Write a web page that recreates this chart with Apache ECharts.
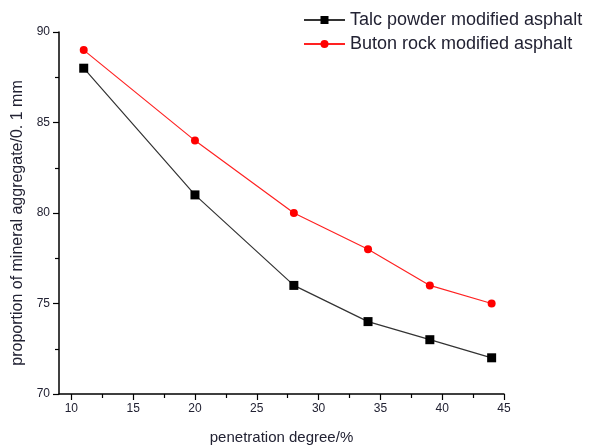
<!DOCTYPE html>
<html><head><meta charset="utf-8">
<script src="https://cdn.jsdelivr.net/npm/echarts@6/dist/echarts.min.js"></script>
<style>html,body{margin:0;padding:0;background:#fff}#c{width:591px;height:447px}</style>
</head><body><div id="c"></div>
<script>
const penetration = [11, 20, 28, 34, 39, 44];
const talc = [88, 81, 76, 74, 73, 72];
const buton = [89, 84, 80, 78, 76, 75];
const xTickLabels = [10, 15, 20, 25, 30, 35, 40, 45];
const xMinorTicks = [12.5, 17.5, 22.5, 27.5, 32.5, 37.5, 42.5];
const seriesNames = ['Talc powder modified asphalt', 'Buton rock modified asphalt'];

const font = 'Liberation Sans, Arial, sans-serif';
const txt = '#222233';
const chart = echarts.init(document.getElementById('c'), null, {renderer: 'canvas'});
chart.setOption({
  animation: false,
  backgroundColor: '#fff',
  grid: {left: 59, right: 87, top: 32, bottom: 53, containLabel: false, outerBoundsMode: 'none'},
  legend: {
    orient: 'vertical', left: 303, top: 11, itemGap: 6, padding: 0,
    itemWidth: 41, itemHeight: 10,
    textStyle: {fontFamily: font, fontSize: 18, color: txt},
    data: seriesNames
  },
  xAxis: [{
    type: 'value', min: 9, max: 45,
    name: 'penetration degree/%', nameLocation: 'middle', nameGap: 36,
    nameTextStyle: {fontFamily: font, fontSize: 15, color: txt},
    axisLine: {show: true, lineStyle: {color: '#000', width: 1.5}},
    axisTick: {show: true, inside: false, length: 6, customValues: xTickLabels, lineStyle: {color: '#000', width: 1.2}},
    axisLabel: {customValues: xTickLabels, margin: 9, fontFamily: font, fontSize: 12, color: txt},
    splitLine: {show: false}
  }, {
    type: 'value', min: 9, max: 45, position: 'bottom',
    axisLine: {show: false},
    axisTick: {show: true, inside: false, length: 4, customValues: xMinorTicks, lineStyle: {color: '#000', width: 1.2}},
    axisLabel: {show: false},
    splitLine: {show: false}
  }],
  yAxis: {
    type: 'value', min: 70, max: 90, interval: 5,
    name: 'proportion of mineral aggregate/0. 1 mm', nameLocation: 'middle', nameGap: 29,
    nameTextStyle: {fontFamily: font, fontSize: 16, color: txt, padding: [0, 20, 0, 0]},
    axisLine: {show: true, lineStyle: {color: '#000', width: 1.5}},
    axisTick: {show: true, inside: false, length: 6, lineStyle: {color: '#000', width: 1.2}},
    minorTick: {show: true, splitNumber: 2, length: 4, lineStyle: {color: '#000', width: 1.2}},
    axisLabel: {margin: 9, fontFamily: font, fontSize: 12, color: txt},
    splitLine: {show: false}
  },
  series: [{
    name: seriesNames[0], type: 'line',
    data: penetration.map((x, i) => [x, talc[i]]),
    symbol: 'rect', symbolSize: 9, showSymbol: true,
    itemStyle: {color: '#000'},
    lineStyle: {color: '#333', width: 1.2}
  }, {
    name: seriesNames[1], type: 'line',
    data: penetration.map((x, i) => [x, buton[i]]),
    symbol: 'circle', symbolSize: 8, showSymbol: true,
    itemStyle: {color: '#ff0000'},
    lineStyle: {color: '#ff2222', width: 1.2}
  }]
});
</script></body></html>
